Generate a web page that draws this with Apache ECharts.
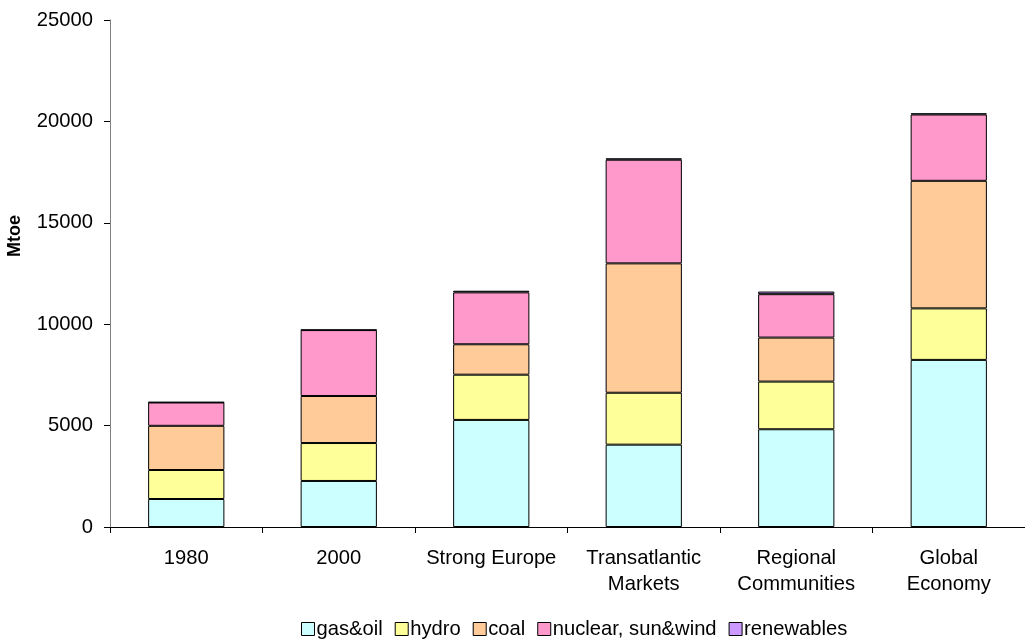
<!DOCTYPE html>
<html>
<head>
<meta charset="utf-8">
<script src="https://cdn.jsdelivr.net/npm/echarts@6/dist/echarts.min.js"></script>
<style>
  html, body { margin: 0; padding: 0; background: #fff; }
  #chart { width: 1025px; height: 641px; }
</style>
</head>
<body>
<div id="chart"></div>
<script>
// World primary energy demand by source (Mtoe), historic years and 2030 scenarios
const categories = ['1980', '2000', 'Strong Europe', 'Transatlantic\nMarkets', 'Regional\nCommunities', 'Global\nEconomy'];
const gasOil     = [1380, 2270, 5280, 4060, 4820, 8240];
const hydro      = [1430, 1870, 2230, 2560, 2350, 2540];
const coal       = [2180, 2320, 1500, 6380, 2170, 6290];
const nuclear    = [1150, 3250, 2560, 5110, 2140, 3270];
const renewables = [20, 20, 80, 70, 130, 60];
const yTicks = { min: 0, max: 25000, step: 5000 };

const FONT = 'Liberation Sans, Arial, sans-serif';
const FONT_SIZE = 20.2;

function stackSeries(name, data, color) {
  return {
    name: name,
    type: 'bar',
    stack: 'total',
    barWidth: '50%',
    data: data,
    itemStyle: { color: color, borderColor: '#000', borderWidth: 1 },
    emphasis: { disabled: true }
  };
}

const chart = echarts.init(document.getElementById('chart'), null, { renderer: 'canvas' });
chart.setOption({
  animation: false,
  backgroundColor: '#ffffff',
  textStyle: { fontFamily: FONT, color: '#000' },
  grid: { left: 110, top: 20, height: 507, width: 926 },
  legend: {
    top: 614,
    left: 296,
    itemWidth: 13,
    itemHeight: 13,
    itemGap: 12,
    icon: 'rect',
    selectedMode: false,
    itemStyle: { borderColor: '#000', borderWidth: 1 },
    textStyle: { fontFamily: FONT, fontSize: FONT_SIZE, color: '#000', padding: [0, 0, 0, -3] },
    data: ['gas&oil', 'hydro', 'coal', 'nuclear, sun&wind', 'renewables']
  },
  xAxis: {
    type: 'category',
    data: categories,
    axisLine: { lineStyle: { color: '#000', width: 1 } },
    axisTick: { show: true, length: 6, alignWithLabel: false, lineStyle: { color: '#000' } },
    axisLabel: { interval: 0, color: '#000', fontFamily: FONT, fontSize: FONT_SIZE, lineHeight: 26, margin: 18 }
  },
  yAxis: {
    type: 'value',
    min: yTicks.min,
    max: yTicks.max,
    interval: yTicks.step,
    axisLine: { show: true, lineStyle: { color: '#808080', width: 1 } },
    axisTick: { show: true, length: 6, lineStyle: { color: '#000' } },
    splitLine: { show: false },
    axisLabel: {
      color: '#000', fontFamily: FONT, fontSize: FONT_SIZE, margin: 17,
      formatter: function (v) { return String(v); }
    }
  },
  graphic: [{
    type: 'text',
    left: 6,
    top: 215,
    rotation: Math.PI / 2,
    style: { text: 'Mtoe', font: 'bold 18px ' + FONT, fill: '#000' }
  }],
  series: [
    stackSeries('gas&oil', gasOil, '#ccffff'),
    stackSeries('hydro', hydro, '#ffff99'),
    stackSeries('coal', coal, '#ffcc99'),
    stackSeries('nuclear, sun&wind', nuclear, '#ff99cc'),
    stackSeries('renewables', renewables, '#cc99ff')
  ]
});
</script>
</body>
</html>
